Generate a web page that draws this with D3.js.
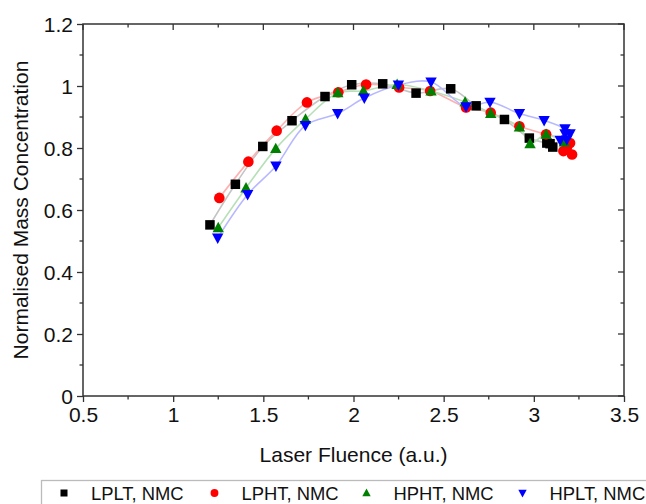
<!DOCTYPE html>
<html><head><meta charset="utf-8">
<script src="https://cdn.jsdelivr.net/npm/d3@7"></script>
<style>
body{margin:0;background:#fff;}
svg{display:block;font-family:"Liberation Sans",Arial,sans-serif;}
</style></head>
<body>
<svg id="chart" width="646" height="504"></svg>
<script>
// ---- data ----
const seriesNames = ["LPLT, NMC","LPHT, NMC","HPHT, NMC","HPLT, NMC"];
const lpltX = [1.204,1.345,1.497,1.659,1.842,1.990,2.162,2.347,2.539,2.680,2.837,2.975,3.072,3.090,3.105];
const lpltY = [0.552,0.683,0.805,0.888,0.966,1.004,1.007,0.977,0.991,0.936,0.892,0.832,0.816,0.814,0.803];
const lphtX = [1.256,1.417,1.574,1.742,1.916,2.070,2.253,2.425,2.624,2.761,2.920,3.068,3.201,3.183,3.164,3.212];
const lphtY = [0.639,0.756,0.856,0.947,0.980,1.005,0.995,0.984,0.931,0.914,0.870,0.844,0.816,0.801,0.790,0.779];
const hphtX = [1.250,1.404,1.569,1.734,1.913,2.055,2.242,2.430,2.619,2.761,2.920,2.979,3.068,3.169];
const hphtY = [0.543,0.671,0.798,0.893,0.978,0.984,1.005,0.984,0.948,0.911,0.868,0.814,0.844,0.819];
const hpltX = [1.247,1.413,1.570,1.733,1.912,2.060,2.249,2.430,2.624,2.757,2.920,3.057,3.173,3.201,3.173,3.183,3.146];
const hpltY = [0.510,0.650,0.742,0.873,0.911,0.961,1.003,1.013,0.933,0.948,0.911,0.889,0.862,0.846,0.846,0.827,0.825];
const xTicks = [0.5,1,1.5,2,2.5,3,3.5];
const yTicks = [0,0.2,0.4,0.6,0.8,1,1.2];
const xMinor = [0.75,1.25,1.75,2.25,2.75,3.25];
const yMinor = [0.1,0.3,0.5,0.7,0.9,1.1];

const markerColors = ["#000000","#ff0000","#008000","#0000ff"];
const lineColors = ["#c4c4c4","#ffb0b0","#b8e0b8","#b8b8ff"];
const markerTypes = ["square","circle","triangle","triangleDown"];

const series = [
  {x:lpltX,y:lpltY},{x:lphtX,y:lphtY},{x:hphtX,y:hphtY},{x:hpltX,y:hpltY}
].map((s,i)=>({name:seriesNames[i],pts:s.x.map((v,j)=>({x:v,y:s.y[j]}))}));

// ---- layout ----
const L=83,R=624,T=24,B=396;
const svg=d3.select("#chart");
const x=d3.scaleLinear().domain([0.5,3.5]).range([L,R]);
const y=d3.scaleLinear().domain([0,1.2]).range([B,T]);
const axisCol="#333";
const FS="21px";

// lines
const line=d3.line().x(d=>x(d.x)).y(d=>y(d.y)).curve(d3.curveCatmullRom.alpha(0.5));
series.forEach((s,i)=>{
  svg.append("path").attr("d",line(s.pts)).attr("fill","none")
    .attr("stroke",lineColors[i]).attr("stroke-width",1.6);
});

function drawMarker(g,type,cx,cy,color,size){
  if(type==="square"){
    g.append("rect").attr("x",cx-size/2).attr("y",cy-size/2).attr("width",size).attr("height",size).attr("fill",color);
  } else if(type==="circle"){
    g.append("circle").attr("cx",cx).attr("cy",cy).attr("r",size*0.56).attr("fill",color);
  } else {
    const h=size*1.05, w=size*1.2;
    const dir = type==="triangle"?1:-1;
    const pts=[[cx,cy-dir*h*0.6],[cx-w/2,cy+dir*h*0.45],[cx+w/2,cy+dir*h*0.45]];
    g.append("polygon").attr("points",pts.map(p=>p.join(",")).join(" ")).attr("fill",color);
  }
}
const mg=svg.append("g");
series.forEach((s,i)=>{
  s.pts.forEach(p=>drawMarker(mg,markerTypes[i],x(p.x),y(p.y),markerColors[i],9.5));
});

// axes
const ax=svg.append("g");
const xb=ax.append("g").attr("transform",`translate(0,${B})`)
  .call(d3.axisBottom(x).tickValues(xTicks).tickSize(6).tickFormat(d3.format("")));
const yl=ax.append("g").attr("transform",`translate(${L},0)`)
  .call(d3.axisLeft(y).tickValues(yTicks).tickSize(6).tickFormat(d=>d===0?"0":d===1?"1":d3.format(".1f")(d)));
[xb,yl].forEach(g=>{
  g.select(".domain").remove();
  g.selectAll(".tick line").attr("stroke",axisCol).attr("stroke-width",1.3);
  g.selectAll(".tick text").attr("fill","#111").style("font-size",FS)
   .style("font-family","'Liberation Sans',Arial,sans-serif");
});
xb.selectAll(".tick text").attr("y",26).attr("dy",0);
yl.selectAll(".tick text").attr("x",-10).attr("dy","0.34em");
// minor ticks
xMinor.forEach(v=>{
  ax.append("line").attr("x1",x(v)).attr("x2",x(v)).attr("y1",B).attr("y2",B+3.5).attr("stroke",axisCol).attr("stroke-width",1.3);
  ax.append("line").attr("x1",x(v)).attr("x2",x(v)).attr("y1",T).attr("y2",T+3.5).attr("stroke",axisCol).attr("stroke-width",1.3);
});
yMinor.forEach(v=>{
  ax.append("line").attr("x1",L-3.5).attr("x2",L).attr("y1",y(v)).attr("y2",y(v)).attr("stroke",axisCol).attr("stroke-width",1.3);
  ax.append("line").attr("x1",R-3.5).attr("x2",R).attr("y1",y(v)).attr("y2",y(v)).attr("stroke",axisCol).attr("stroke-width",1.3);
});
// top/right major ticks (inward)
xTicks.forEach(v=>{
  ax.append("line").attr("x1",x(v)).attr("x2",x(v)).attr("y1",T).attr("y2",T+6).attr("stroke",axisCol).attr("stroke-width",1.3);
});
yTicks.forEach(v=>{
  ax.append("line").attr("x1",R-6).attr("x2",R).attr("y1",y(v)).attr("y2",y(v)).attr("stroke",axisCol).attr("stroke-width",1.3);
});
// frame
ax.append("rect").attr("x",L).attr("y",T).attr("width",R-L).attr("height",B-T)
  .attr("fill","none").attr("stroke",axisCol).attr("stroke-width",1.5);

// titles
svg.append("text").attr("x",(L+R)/2).attr("y",462).attr("text-anchor","middle")
  .style("font-size",FS).attr("fill","#111").text("Laser Fluence (a.u.)");
svg.append("text").attr("transform",`translate(28,${(T+B)/2}) rotate(-90)`).attr("text-anchor","middle")
  .style("font-size",FS).attr("fill","#111").text("Normalised Mass Concentration");

// legend
const lg=svg.append("g");
lg.append("rect").attr("x",41.5).attr("y",480.5).attr("width",620).attr("height",40)
  .attr("fill","#fff").attr("stroke","#bbb").attr("stroke-width",1.3);
const legX=[64,214.5,366.5,522.5];
series.forEach((s,i)=>{
  drawMarker(lg,markerTypes[i],legX[i],493,markerColors[i],7);
  lg.append("text").attr("x",legX[i]+27).attr("y",499.5).style("font-size","18.4px")
    .attr("fill","#111").text(s.name);
});
</script>
</body></html>
